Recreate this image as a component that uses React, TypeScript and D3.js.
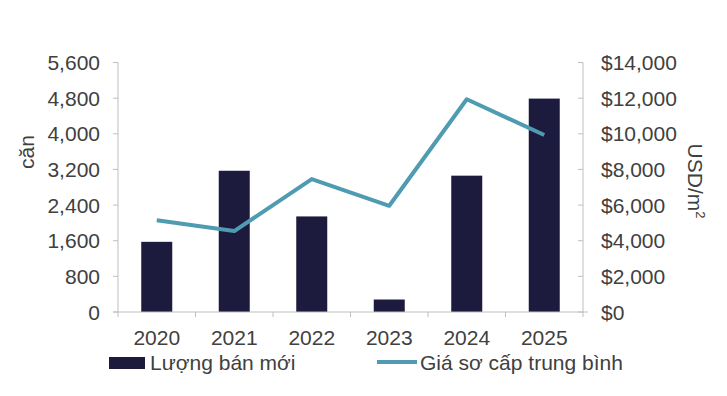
import React, { useEffect, useRef } from 'react';
import * as d3 from 'd3';

const years = ['2020', '2021', '2022', '2023', '2024', '2025'];
const newSales = [1575, 3170, 2145, 280, 3060, 4790];
const avgPrice = [5150, 4540, 7460, 5960, 11940, 9930];
const leftTicks = [0, 800, 1600, 2400, 3200, 4000, 4800, 5600];
const rightTicks = [0, 2000, 4000, 6000, 8000, 10000, 12000, 14000];

const W = 727;
const H = 396;
const FONT = '"Liberation Sans", Arial, sans-serif';
const TEXT = '#404040';
const AXIS = '#bfbfbf';
const BAR = '#1c1b3e';
const LINE = '#4e9bb2';

const App: React.FC = () => {
  const svgRef = useRef<SVGSVGElement | null>(null);

  useEffect(() => {
    if (!svgRef.current) return;
    const svg = d3.select(svgRef.current);
    svg.selectAll('*').remove();

    const left = 118, right = 583, top = 62.5, bottom = 312;

    const x = d3.scaleBand<string>().domain(years).range([left, right]).paddingInner(0.6).paddingOuter(0.3);
    const step = (right - left) / years.length;
    const yL = d3.scaleLinear().domain([0, 5600]).range([bottom, top]);
    const yR = d3.scaleLinear().domain([0, 14000]).range([bottom, top]);

    // bars
    svg.append('g')
      .selectAll('rect')
      .data(years)
      .enter().append('rect')
      .attr('x', d => x(d)!)
      .attr('y', (d, i) => yL(newSales[i]))
      .attr('width', x.bandwidth())
      .attr('height', (d, i) => bottom - yL(newSales[i]))
      .attr('fill', BAR);

    // price line
    const line = d3.line<number>()
      .x((d, i) => x(years[i])! + x.bandwidth() / 2)
      .y(d => yR(d));
    svg.append('path')
      .attr('d', line(avgPrice))
      .attr('fill', 'none')
      .attr('stroke', LINE)
      .attr('stroke-width', 4)
      .attr('stroke-linejoin', 'round');

    // left axis
    const gl = svg.append('g');
    gl.append('line').attr('x1', left).attr('x2', left).attr('y1', top).attr('y2', bottom).attr('stroke', AXIS);
    leftTicks.forEach(t => {
      gl.append('line').attr('x1', left - 5).attr('x2', left).attr('y1', yL(t)).attr('y2', yL(t)).attr('stroke', AXIS);
      gl.append('text')
        .attr('x', 100).attr('y', yL(t)).attr('dy', '0.36em')
        .attr('text-anchor', 'end')
        .style('font-family', FONT).style('font-size', '21px').style('fill', TEXT)
        .text(d3.format(',')(t));
    });

    // right axis
    const gr = svg.append('g');
    gr.append('line').attr('x1', right).attr('x2', right).attr('y1', top).attr('y2', bottom).attr('stroke', AXIS);
    rightTicks.forEach(t => {
      gr.append('line').attr('x1', right - 5).attr('x2', right).attr('y1', yR(t)).attr('y2', yR(t)).attr('stroke', AXIS);
      gr.append('text')
        .attr('x', 601).attr('y', yR(t)).attr('dy', '0.36em')
        .attr('text-anchor', 'start')
        .style('font-family', FONT).style('font-size', '21px').style('fill', TEXT)
        .text('$' + d3.format(',')(t));
    });

    // x axis
    const gx = svg.append('g');
    gx.append('line').attr('x1', left - 5).attr('x2', right + 5).attr('y1', bottom).attr('y2', bottom).attr('stroke', AXIS);
    d3.range(years.length + 1).forEach(i => {
      const xx = left + i * step;
      gx.append('line').attr('x1', xx).attr('x2', xx).attr('y1', bottom).attr('y2', bottom + 5).attr('stroke', AXIS);
    });
    years.forEach(yr => {
      gx.append('text')
        .attr('x', x(yr)! + x.bandwidth() / 2).attr('y', 345)
        .attr('text-anchor', 'middle')
        .style('font-family', FONT).style('font-size', '21px').style('fill', TEXT)
        .text(yr);
    });

    // axis titles
    svg.append('text')
      .attr('transform', 'translate(34,152) rotate(-90)')
      .attr('text-anchor', 'middle')
      .style('font-family', FONT).style('font-size', '21px').style('fill', TEXT)
      .text('căn');
    const ut = svg.append('text')
      .attr('transform', 'translate(688,181) rotate(90)')
      .attr('text-anchor', 'middle')
      .style('font-family', FONT).style('font-size', '21px').style('fill', TEXT);
    ut.append('tspan').text('USD/m');
    ut.append('tspan').attr('dy', -8).style('font-size', '13px').text('2');

    // legend
    svg.append('rect').attr('x', 109).attr('y', 357).attr('width', 36).attr('height', 12).attr('fill', BAR);
    svg.append('text')
      .attr('x', 150).attr('y', 370)
      .style('font-family', FONT).style('font-size', '21px').style('fill', TEXT)
      .text('Lượng bán mới');
    svg.append('line').attr('x1', 377).attr('x2', 417).attr('y1', 362).attr('y2', 362)
      .attr('stroke', LINE).attr('stroke-width', 4);
    svg.append('text')
      .attr('x', 420).attr('y', 370)
      .style('font-family', FONT).style('font-size', '21px').style('fill', TEXT)
      .text('Giá sơ cấp trung bình');
  }, []);

  return <svg ref={svgRef} width={W} height={H} style={{ position: 'absolute', left: 0, top: 0, background: '#fff' }} />;
};

export default App;
